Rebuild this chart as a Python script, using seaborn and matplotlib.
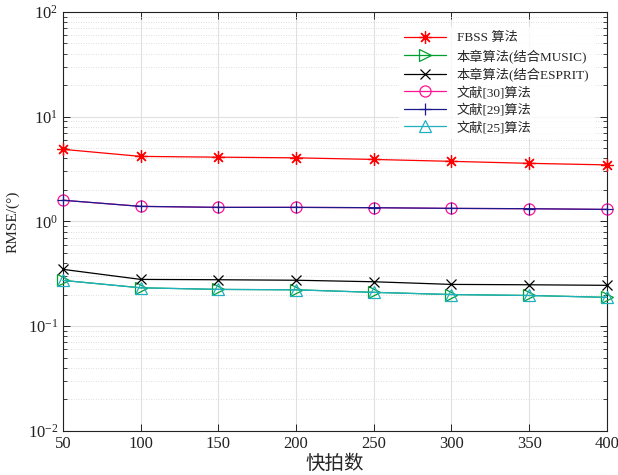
import numpy as np
import pandas as pd
import matplotlib
matplotlib.use('Agg')
import matplotlib.pyplot as plt
import seaborn as sns

# ----------------------------------------------------------------------------
# data
# ----------------------------------------------------------------------------
snapshots = [50, 100, 150, 200, 250, 300, 350, 400]

fbss = [4.87, 4.17, 4.10, 4.04, 3.90, 3.74, 3.58, 3.46]
ours_music = [0.273, 0.232, 0.224, 0.222, 0.210, 0.200, 0.196, 0.188]
ours_esprit = [0.348, 0.279, 0.277, 0.274, 0.265, 0.250, 0.248, 0.245]
ref30 = [1.59, 1.39, 1.36, 1.36, 1.35, 1.33, 1.32, 1.30]
ref29 = [1.59, 1.39, 1.36, 1.36, 1.35, 1.33, 1.32, 1.30]
ref25 = [0.273, 0.232, 0.224, 0.222, 0.210, 0.200, 0.196, 0.188]

labels = ['FBSS 算法', '本章算法(结合MUSIC)', '本章算法(结合ESPRIT)',
          '文献[30]算法', '文献[29]算法', '文献[25]算法']
series = [fbss, ours_music, ours_esprit, ref30, ref29, ref25]

colors = ['#ff0000', '#00a030', '#000000', '#ff1493', '#1a1a8c', '#20b0c0']
markers = [(8, 2, 0), '>', 'x', 'o', '+', '^']
msizes = [9, 8, 7, 8, 9, 8]

df = pd.DataFrame({
    'snap': np.tile(snapshots, len(series)),
    'rmse': np.concatenate(series),
    'method': np.repeat(labels, len(snapshots)),
})

# ----------------------------------------------------------------------------
# plot
# ----------------------------------------------------------------------------
sns.set_style('white')
plt.rcParams['font.family'] = ['Liberation Serif', 'Noto Sans CJK SC']
plt.rcParams['mathtext.fontset'] = 'stix'

fig = plt.figure(figsize=(6.18, 4.75), dpi=100)
ax = fig.add_axes([0.102, 0.093, 0.880, 0.882])

for lab, c, m, ms in zip(labels, colors, markers, msizes):
    sns.lineplot(data=df[df['method'] == lab], x='snap', y='rmse', ax=ax,
                 color=c, marker=m, markersize=ms, markerfacecolor='none',
                 markeredgecolor=c, markeredgewidth=0.9, linewidth=0.9,
                 label=lab, clip_on=False, zorder=3)

ax.set_yscale('log')
ax.set_xlim(50, 400)
ax.set_ylim(1e-2, 1e2)
ax.set_xticks(snapshots)

ax.grid(True, which='major', color='#e0e0e0', linewidth=0.8, linestyle='-')
ax.grid(True, which='minor', axis='y', color='#d4d4d4', linewidth=0.6, linestyle=(0, (1, 2)))
ax.tick_params(which='both', direction='in', bottom=True, left=True,
               top=True, right=True, labelsize=12, colors='#222222')
ax.tick_params(which='major', length=5, width=0.7)
ax.tick_params(which='minor', length=3, width=0.6)
for s in ax.spines.values():
    s.set_color('#222222')
    s.set_linewidth(0.8)

ax.set_xlabel('快拍数', fontsize=14, labelpad=2)
ax.set_ylabel('RMSE/(°)', fontsize=11, labelpad=6)

leg = ax.legend(loc='upper right', bbox_to_anchor=(0.99, 0.98), fontsize=9.5,
                frameon=True, fancybox=False, edgecolor='white',
                handlelength=3.2, labelspacing=0.35, borderpad=0.4)
leg.get_frame().set_linewidth(0)
leg.set_zorder(5)

plt.savefig('out.png', dpi=100)
